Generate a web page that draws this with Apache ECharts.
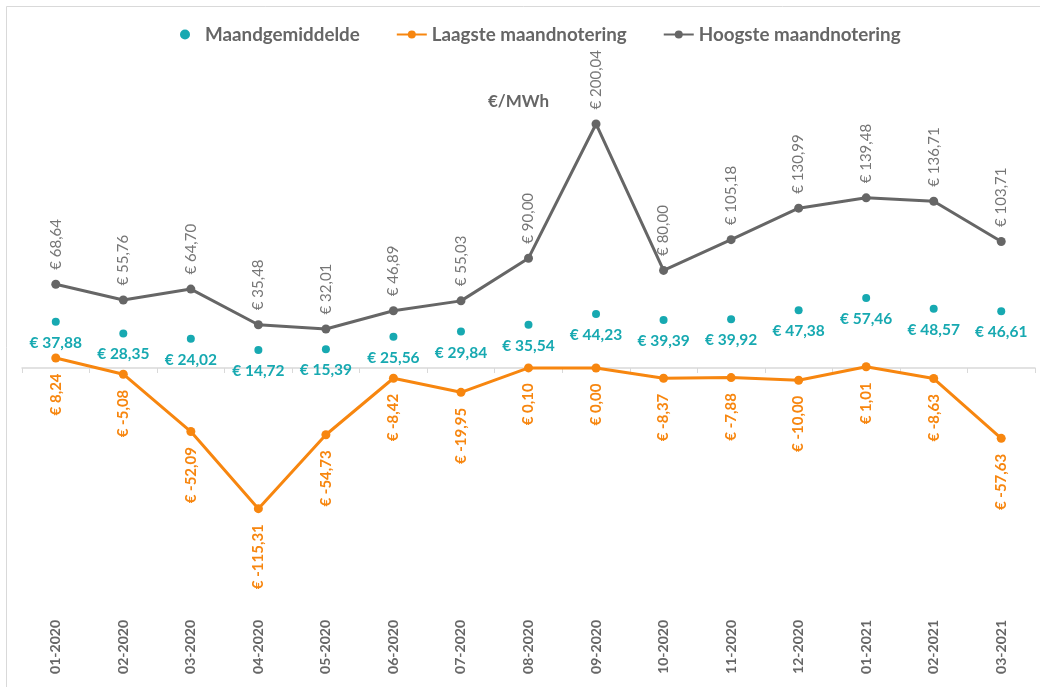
<!DOCTYPE html>
<html>
<head>
<meta charset="utf-8">
<script src="https://cdn.jsdelivr.net/npm/echarts@6/dist/echarts.min.js"></script>
<style>
  html, body { margin: 0; padding: 0; background: #fff; }
  #main { width: 1040px; height: 687px; }
</style>
</head>
<body>
<div id="main"></div>
<script>
var maanden = ['01-2020', '02-2020', '03-2020', '04-2020', '05-2020', '06-2020', '07-2020', '08-2020',
  '09-2020', '10-2020', '11-2020', '12-2020', '01-2021', '02-2021', '03-2021'];
var gemiddelde = [37.88, 28.35, 24.02, 14.72, 15.39, 25.56, 29.84, 35.54, 44.23, 39.39, 39.92, 47.38, 57.46, 48.57, 46.61];
var laagste = [8.24, -5.08, -52.09, -115.31, -54.73, -8.42, -19.95, 0.10, 0.00, -8.37, -7.88, -10.00, 1.01, -8.63, -57.63];
var hoogste = [68.64, 55.76, 64.70, 35.48, 32.01, 46.89, 55.03, 90.00, 200.04, 80.00, 105.18, 130.99, 139.48, 136.71, 103.71];

var teal = '#17a9b1';
var oranje = '#f7860f';
var grijs = '#666666';
var font = 'Lato';

function euro(p) {
  return '€ ' + p.value.toFixed(2).replace('.', ',');
}

var chart = echarts.init(document.getElementById('main'));
var option = {
  backgroundColor: '#fff',
  textStyle: { fontFamily: font },
  title: {
    text: '€/MWh',
    left: 483,
    top: 88,
    textStyle: { color: grijs, fontSize: 17, fontWeight: 'bold', fontFamily: font }
  },
  graphic: [{
    type: 'rect',
    shape: { x: 6.5, y: 6.5, width: 1040, height: 690 },
    style: { fill: 'none', stroke: '#d9d9d9', lineWidth: 1 },
    silent: true
  }],
  legend: {
    top: 20,
    left: 175,
    itemGap: 36,
    itemWidth: 30,
    itemHeight: 10,
    textStyle: { color: grijs, fontSize: 18.8, fontWeight: 'bold', fontFamily: font },
    data: [
      { name: 'Maandgemiddelde', icon: 'circle', itemStyle: { color: teal } },
      { name: 'Laagste maandnotering' },
      { name: 'Hoogste maandnotering' }
    ]
  },
  grid: { left: 22, right: 5, top: 63, bottom: 75 },
  xAxis: [{
    type: 'category',
    data: maanden,
    position: 'bottom',
    axisLine: { show: false, onZero: false },
    axisTick: { show: false },
    axisLabel: { rotate: 90, margin: 8, color: grijs, fontSize: 14, fontWeight: 'bold', fontFamily: font }
  }, {
    type: 'category',
    data: maanden,
    position: 'bottom',
    axisLine: { onZero: true, lineStyle: { color: '#d9d9d9', width: 1.5 } },
    axisTick: { show: true, length: 5, lineStyle: { color: '#d9d9d9' } },
    axisLabel: { show: false }
  }],
  yAxis: {
    type: 'value',
    min: -200,
    max: 250,
    show: false,
    splitLine: { show: false }
  },
  series: [{
    name: 'Maandgemiddelde',
    type: 'line',
    data: gemiddelde,
    lineStyle: { width: 0, opacity: 0 },
    symbol: 'circle',
    symbolSize: 8,
    itemStyle: { color: teal },
    label: {
      show: true,
      position: 'bottom',
      distance: 9,
      formatter: euro,
      color: teal,
      fontSize: 15.5,
      fontWeight: 'bold',
      fontFamily: font
    },
    z: 3
  }, {
    name: 'Laagste maandnotering',
    type: 'line',
    data: laagste,
    symbol: 'circle',
    symbolSize: 9,
    lineStyle: { width: 3, color: oranje },
    itemStyle: { color: oranje },
    label: {
      show: true,
      position: 'bottom',
      distance: 11,
      rotate: 90,
      align: 'right',
      verticalAlign: 'middle',
      formatter: euro,
      color: oranje,
      fontSize: 15,
      fontWeight: 'bold',
      fontFamily: font
    }
  }, {
    name: 'Hoogste maandnotering',
    type: 'line',
    data: hoogste,
    symbol: 'circle',
    symbolSize: 9,
    lineStyle: { width: 3, color: grijs },
    itemStyle: { color: grijs },
    label: {
      show: true,
      position: 'top',
      distance: 10,
      rotate: 90,
      align: 'left',
      verticalAlign: 'middle',
      formatter: euro,
      color: '#767676',
      fontSize: 15,
      fontFamily: font
    }
  }]
};
chart.setOption(option);
</script>
</body>
</html>
